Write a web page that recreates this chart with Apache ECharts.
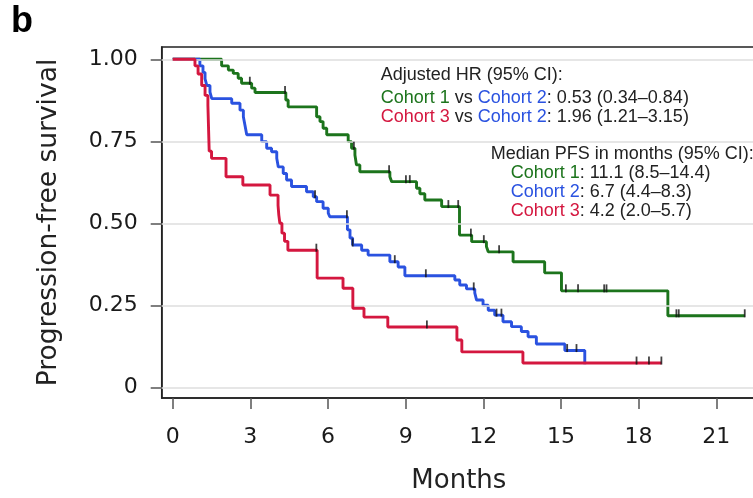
<!DOCTYPE html>
<html>
<head>
    <meta charset="utf-8">
    <title>Progression-free survival</title>
    <script src="https://cdn.jsdelivr.net/npm/echarts@6/dist/echarts.min.js"></script>
</head>
<body style="margin: 0; background: #fff;">
<div id="container" style="width: 753px; height: 498px;"></div>

<script type="text/javascript">
    // axis ticks
    var xTicks = [0, 3, 6, 9, 12, 15, 18, 21];
    var yTicks = [0, 0.25, 0.5, 0.75, 1];
    var yTickLabels = ['0', '0.25', '0.50', '0.75', '1.00'];

    // Kaplan-Meier steps: [month, survival after the event]
    var cohort1 = [[0, 1], [1.89, 0.98], [2.15, 0.967], [2.34, 0.957], [2.53, 0.942], [2.66, 0.927], [3.05, 0.912],
        [3.18, 0.899], [4.37, 0.876], [4.46, 0.855], [5.56, 0.825], [5.69, 0.81], [5.81, 0.79], [5.95, 0.77],
        [6.78, 0.749], [6.91, 0.729], [7.04, 0.708], [7.1, 0.678], [7.23, 0.657], [8.39, 0.642], [8.46, 0.627],
        [9.42, 0.607], [9.55, 0.59], [9.74, 0.571], [10.39, 0.551], [11.08, 0.464], [11.55, 0.444], [12.12, 0.429],
        [12.19, 0.413], [13.15, 0.383], [14.37, 0.349], [15.02, 0.294], [19.13, 0.218], [22.1, 0.218]];
    var cohort1Censor = [[2.98, 0.927], [4.34, 0.899], [7.0, 0.729], [8.36, 0.657], [9.01, 0.627], [9.16, 0.627],
        [10.65, 0.551], [11.03, 0.551], [11.52, 0.464], [12.02, 0.444], [12.61, 0.413], [15.19, 0.294],
        [15.66, 0.294], [16.67, 0.294], [16.76, 0.294], [19.46, 0.218], [19.55, 0.218], [22.1, 0.218]];

    var cohort2 = [[0, 1], [1.05, 0.98], [1.17, 0.96], [1.25, 0.94], [1.32, 0.92], [1.44, 0.9], [1.51, 0.88],
        [2.28, 0.866], [2.6, 0.845], [2.73, 0.825], [2.79, 0.8], [2.86, 0.77], [3.44, 0.749], [3.63, 0.729],
        [3.82, 0.718], [4.02, 0.698], [4.08, 0.672], [4.27, 0.652], [4.4, 0.632], [4.59, 0.612], [5.17, 0.596],
        [5.43, 0.581], [5.56, 0.566], [5.81, 0.546], [6.01, 0.531], [6.07, 0.52], [6.75, 0.48], [6.85, 0.455],
        [6.95, 0.434], [7.3, 0.418], [7.55, 0.403], [8.39, 0.383], [8.71, 0.367], [8.97, 0.34], [10.9, 0.327],
        [11.09, 0.312], [11.35, 0.3], [11.67, 0.288], [11.74, 0.266], [11.99, 0.25], [12.19, 0.235], [12.44, 0.22],
        [12.76, 0.2], [13.09, 0.185], [13.47, 0.17], [13.73, 0.154], [14.05, 0.132], [15.15, 0.112], [15.92, 0.07]];
    var cohort2Censor = [[5.5, 0.581], [6.73, 0.52], [6.95, 0.434], [8.58, 0.383], [9.78, 0.34], [11.63, 0.3],
        [12.51, 0.22], [12.7, 0.22], [15.24, 0.112], [15.6, 0.112]];

    var cohort3 = [[0, 1], [0.86, 0.98], [0.98, 0.955], [1.12, 0.92], [1.25, 0.89], [1.36, 0.86], [1.41, 0.72],
        [1.5, 0.698], [2.06, 0.642], [2.71, 0.617], [3.76, 0.586], [4.07, 0.555], [4.1, 0.525], [4.14, 0.5],
        [4.22, 0.47], [4.32, 0.445], [4.45, 0.418], [5.58, 0.333], [6.58, 0.302], [6.96, 0.241], [7.39, 0.214],
        [8.31, 0.184], [10.98, 0.144], [11.17, 0.108], [13.53, 0.074], [18.88, 0.074]];
    var cohort3Censor = [[5.55, 0.418], [9.82, 0.184], [17.92, 0.074], [18.4, 0.074], [18.88, 0.074]];

    var green = '#1c741c', blue = '#2a52e0', red = '#d4173f';
    var legendFont = '18px "Liberation Sans", Arial, sans-serif';
    var tickFont = 'DejaVu Sans';

    function colored(c) {
        return {fill: c, font: legendFont};
    }
    var rich = {g: colored(green), b: colored(blue), r: colored(red), k: colored('#222')};

    var dom = document.getElementById("container");
    var myChart = echarts.init(dom, null, {renderer: 'canvas'});

    function kmLine(name, data, color, z) {
        return {
            name: name, type: 'line', step: 'end', data: data, z: z,
            symbol: 'none', lineStyle: {color: color, width: 2.9}, itemStyle: {color: color}
        };
    }
    function censor(data) {
        return {
            type: 'scatter', data: data, z: 10, symbol: 'rect', symbolSize: [1.8, 8], symbolOffset: [0, -2.5],
            itemStyle: {color: '#111'}
        };
    }

    var option = {
        animation: false,
        grid: {
            left: 161.7, right: -3, top: 47, bottom: 100, show: true, borderColor: '#222', borderWidth: 1.5,
            outerBoundsMode: 'none', containLabel: false
        },
        xAxis: {
            type: 'value', min: -0.425, max: 22.535,
            name: 'Months', nameLocation: 'middle', nameGap: 70,
            nameTextStyle: {fontSize: 26, fontFamily: tickFont, color: '#222'},
            axisLine: {show: true, onZero: false, lineStyle: {color: '#222', width: 1.5}},
            axisTick: {show: true, customValues: xTicks, length: 11, lineStyle: {color: '#555', width: 1.5}},
            axisLabel: {customValues: xTicks, margin: 28, fontSize: 22, fontFamily: tickFont, color: '#1a1a1a'},
            splitLine: {show: false}
        },
        yAxis: {
            type: 'value', min: -0.0326, max: 1.0375,
            name: 'Progression-free survival', nameLocation: 'middle', nameGap: 99,
            nameTextStyle: {fontSize: 26.5, fontFamily: tickFont, color: '#222'},
            axisLine: {show: true, onZero: false, lineStyle: {color: '#222', width: 1.5}},
            axisTick: {show: true, customValues: yTicks, length: 11, lineStyle: {color: '#555', width: 1.5}},
            axisLabel: {
                customValues: yTicks, margin: 24, fontSize: 22, fontFamily: tickFont, color: '#1a1a1a',
                formatter: function (v) {
                    var i = yTicks.indexOf(v);
                    return i >= 0 ? yTickLabels[i] : '';
                }
            },
            splitLine: {show: false}
        },
        graphic: [
            {type: 'text', left: 11, top: 4, style: {text: 'b', font: '900 36px "Liberation Sans", Arial', fill: '#000'}},
            {type: 'text', x: 380.7, y: 75, style: {text: '{k|Adjusted HR (95% CI):}', rich: rich, verticalAlign: 'middle'}},
            {type: 'text', x: 380.7, y: 98.5, style: {text: '{g|Cohort 1}{k| vs }{b|Cohort 2}{k|: 0.53 (0.34–0.84)}', rich: rich, verticalAlign: 'middle'}},
            {type: 'text', x: 380.7, y: 117, style: {text: '{r|Cohort 3}{k| vs }{b|Cohort 2}{k|: 1.96 (1.21–3.15)}', rich: rich, verticalAlign: 'middle'}},
            {type: 'text', x: 490.7, y: 154.5, style: {text: '{k|Median PFS in months (95% CI):}', rich: rich, verticalAlign: 'middle'}},
            {type: 'text', x: 510.7, y: 173.5, style: {text: '{g|Cohort 1}{k|: 11.1 (8.5–14.4)}', rich: rich, verticalAlign: 'middle'}},
            {type: 'text', x: 510.7, y: 192.5, style: {text: '{b|Cohort 2}{k|: 6.7 (4.4–8.3)}', rich: rich, verticalAlign: 'middle'}},
            {type: 'text', x: 510.7, y: 211.5, style: {text: '{r|Cohort 3}{k|: 4.2 (2.0–5.7)}', rich: rich, verticalAlign: 'middle'}}
        ],
        series: [
            {
                type: 'line', data: [], z: 1,
                markLine: {
                    silent: true, symbol: ['none', 'none'], label: {show: false},
                    lineStyle: {color: '#dedede', width: 1.5, type: 'solid'},
                    data: yTicks.map(function (v) { return {yAxis: v}; })
                }
            },
            kmLine('Cohort 1', cohort1, green, 3),
            kmLine('Cohort 2', cohort2, blue, 4),
            kmLine('Cohort 3', cohort3, red, 5),
            censor(cohort1Censor),
            censor(cohort2Censor),
            censor(cohort3Censor)
        ]
    };
    myChart.setOption(option, true);
</script>
</body>
</html>
